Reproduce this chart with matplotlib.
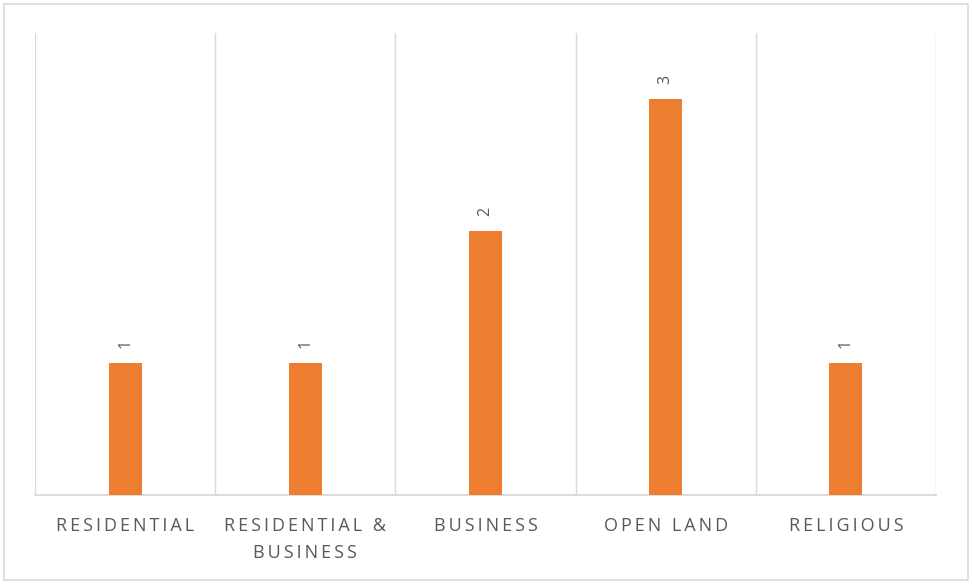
import matplotlib
matplotlib.use("Agg")
import matplotlib.pyplot as plt
from matplotlib.patches import Rectangle

# 資料
categories = ["RESIDENTIAL", "RESIDENTIAL &\nBUSINESS", "BUSINESS", "OPEN LAND", "RELIGIOUS"]
values = [1, 1, 2, 3, 1]

BAR_COLOR = "#ED7D31"
GRID_COLOR = "#D9D9D9"
TEXT_COLOR = "#595959"

plt.rcParams['font.family'] = ['Open Sans', 'DejaVu Sans']


def spaced(s, sep="\u2009"):
    # 模擬字距：每個字元之間加入細空白
    lines = s.split("\n")
    out = []
    for line in lines:
        words = line.split(" ")
        out.append((sep + " " + sep).join(sep.join(w) for w in words))
    return "\n".join(out)


fig = plt.figure(figsize=(9.72, 5.84), dpi=100)
ax = fig.add_axes([35 / 972, 1 - 495 / 584, (936 - 35) / 972, (495 - 33) / 584])

x = list(range(len(categories)))
bars = ax.bar(x, values, width=0.183, color=BAR_COLOR, zorder=3)

ax.set_xlim(-0.5, len(categories) - 0.5)
ax.set_ylim(0, 3.5)

# 類別分隔線
for b in [i - 0.5 for i in range(len(categories) + 1)]:
    ax.axvline(b, color=GRID_COLOR, lw=1.0, zorder=1)

for side in ["top", "left", "right"]:
    ax.spines[side].set_visible(False)
ax.spines["bottom"].set_color(GRID_COLOR)
ax.spines["bottom"].set_linewidth(1.3)

ax.set_yticks([])
ax.set_xticks(x)
ax.set_xticklabels([spaced(c) for c in categories], fontsize=13, color=TEXT_COLOR,
                   linespacing=1.65)
ax.tick_params(axis="x", length=0, pad=16)

# 資料標籤
for xi, v in zip(x, values):
    ax.annotate(str(v), (xi, v), xytext=(0, 11), textcoords="offset points",
                rotation=90, ha="center", va="bottom", fontsize=11.5, color=TEXT_COLOR)

# 外框
fig.patches.append(Rectangle((4 / 972, 4 / 584), 964 / 972, 576 / 584, transform=fig.transFigure,
                             fill=False, edgecolor=GRID_COLOR, lw=1.2))

fig.savefig("out.png", dpi=100)
